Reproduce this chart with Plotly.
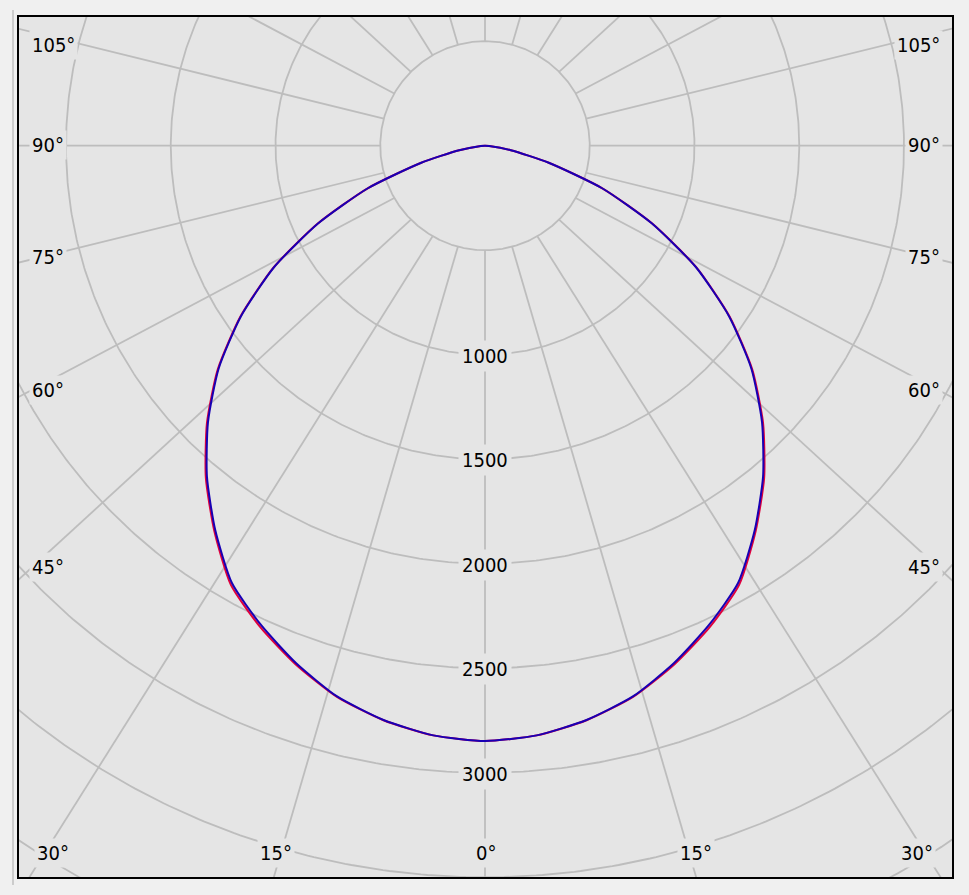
import numpy as np
import plotly.graph_objects as go

# ---------------- data ----------------
GAMMA = [0, 5, 10, 15, 20, 25, 30, 35, 40, 45, 50, 55, 60, 65, 70, 75, 80, 85, 90]
# C90-C270 plane (blue, drawn on top)
I_BLUE = [2848, 2832, 2790, 2728, 2635, 2530, 2416, 2245, 2065, 1870, 1660,
          1422, 1163, 878, 595, 315, 125, 20, 0]
# C0-C180 plane (red, underneath)
I_RED = [2848, 2832, 2791, 2730, 2641, 2540, 2426, 2252, 2073, 1877, 1665,
         1425, 1165, 879, 596, 315, 125, 20, 0]

RING_VALUES = [500, 1000, 1500, 2000, 2500, 3000, 3500, 4000]
RADIAL_LABELS = [1000, 1500, 2000, 2500, 3000]
SPOKE_ANGLES = [0, 15, 30, 45, 60, 75, 90, 105, 120, 135, 150, 165, 180]
SIDE_LABELS = ["105°", "90°", "75°", "60°", "45°"]
BOTTOM_LABELS = ["30°", "15°", "0°", "15°", "30°"]

# ---------------- layout constants (page pixels) ----------------
OFF = 8                       # default body margin of the html page
W, H = 969 - 2 * OFF, 895 - 2 * OFF
FRAME_L, FRAME_R, FRAME_T, FRAME_B = 19, 952, 15, 877
ML, MT = FRAME_L - OFF, FRAME_T - OFF
MR, MB = (W + OFF) - FRAME_R, (H + OFF) - FRAME_B
PW, PH = FRAME_R - FRAME_L, FRAME_B - FRAME_T
CX, CY = 485, 144             # pole position in page pixels
S = 0.2095                    # pixels per cd
SPOKE_K = 0.92                # vertical squash of the spoke directions

PLOT_BG = "#e5e5e5"
PAPER_BG = "#f0f0f0"
GRID = "#bdbdbd"
FONT = dict(family="DejaVu Sans Condensed, DejaVu Sans", size=20, color="#000000")

x_range = [-(CX - FRAME_L) / S, (FRAME_R - CX) / S]
y_range = [-(FRAME_B - CY) / S, (CY - FRAME_T) / S]


def px2paper(px, py):
    return (px - FRAME_L) / PW, 1 - (py - FRAME_T) / PH


fig = go.Figure()

# rings
phi = np.linspace(0, 2 * np.pi, 721)
for r in RING_VALUES:
    fig.add_trace(go.Scatter(x=r * np.sin(phi), y=r * np.cos(phi), mode="lines",
                             line=dict(color=GRID, width=1.8), hoverinfo="skip",
                             showlegend=False))

# spokes (start on the 500 ring)
r0 = RING_VALUES[0]
for a in SPOKE_ANGLES:
    for sgn in ([1] if a in (0, 180) else [1, -1]):
        t = np.deg2rad(a) * sgn
        sx, sy = r0 * np.sin(t), -r0 * np.cos(t)
        dx, dy = np.sin(t), -SPOKE_K * np.cos(t)
        n = np.hypot(dx, dy)
        L = 9000
        fig.add_trace(go.Scatter(x=[sx, sx + L * dx / n], y=[sy, sy + L * dy / n],
                                 mode="lines", line=dict(color=GRID, width=1.8),
                                 hoverinfo="skip", showlegend=False))


def curve(vals):
    g = np.array(GAMMA, dtype=float)
    v = np.array(vals, dtype=float)
    th = np.deg2rad(np.r_[-g[::-1], g[1:]])
    rr = np.r_[v[::-1], v[1:]]
    return rr * np.sin(th), -rr * np.cos(th)


xr, yr = curve(I_RED)
fig.add_trace(go.Scatter(x=xr, y=yr, mode="lines", name="C0-C180",
                         line=dict(color="#e0003c", width=2, shape="spline",
                                   smoothing=0.6), showlegend=False))
xb, yb = curve(I_BLUE)
fig.add_trace(go.Scatter(x=xb, y=yb, mode="lines", name="C90-C270",
                         line=dict(color="#1800b4", width=2, shape="spline",
                                   smoothing=0.6), showlegend=False))

annotations = []
# radial value labels along the 0° spoke
for v in RADIAL_LABELS:
    annotations.append(dict(x=0, y=-v, xref="x", yref="y", text=str(v),
                            showarrow=False, font=FONT, bgcolor=PLOT_BG,
                            borderpad=3, yshift=-1))

# side angle labels
side_y = [43.5, 143.5, 255.5, 388.5, 566.5]
for txt, py in zip(SIDE_LABELS, side_y):
    xl, yp = px2paper(29, py)
    annotations.append(dict(x=xl, y=yp, xref="paper", yref="paper", text=txt,
                            xanchor="left", yanchor="middle", showarrow=False,
                            font=FONT, bgcolor=PLOT_BG, borderpad=2))
    xr_, _ = px2paper(943, py)
    annotations.append(dict(x=xr_, y=yp, xref="paper", yref="paper", text=txt,
                            xanchor="right", yanchor="middle", showarrow=False,
                            font=FONT, bgcolor=PLOT_BG, borderpad=2))

# bottom angle labels
bottom_x = [53, 276, 486, 696, 917]
for txt, px in zip(BOTTOM_LABELS, bottom_x):
    xp, yp = px2paper(px, 852.5)
    annotations.append(dict(x=xp, y=yp, xref="paper", yref="paper", text=txt,
                            xanchor="center", yanchor="middle", showarrow=False,
                            font=FONT, bgcolor=PLOT_BG, borderpad=2))

# thin splitter line left of the frame
x13, ytop = px2paper(13, 8)
_, ybot = px2paper(13, 885)
shapes = [dict(type="line", xref="paper", yref="paper", x0=x13, x1=x13,
               y0=ytop, y1=ybot, line=dict(color="#a8a8a8", width=1))]

axis_common = dict(showgrid=False, zeroline=False, showticklabels=False,
                   ticks="", showline=True, mirror=True, linecolor="#000000",
                   linewidth=1.5, fixedrange=True)

fig.update_layout(
    width=W, height=H,
    margin=dict(l=ML, r=MR, t=MT, b=MB, pad=0),
    paper_bgcolor=PAPER_BG, plot_bgcolor=PLOT_BG,
    xaxis=dict(range=x_range, **axis_common),
    yaxis=dict(range=y_range, **axis_common),
    annotations=annotations, shapes=shapes,
    showlegend=False,
)

fig.write_html("out.html",
               post_script="document.body.style.background='%s';" % PAPER_BG)
